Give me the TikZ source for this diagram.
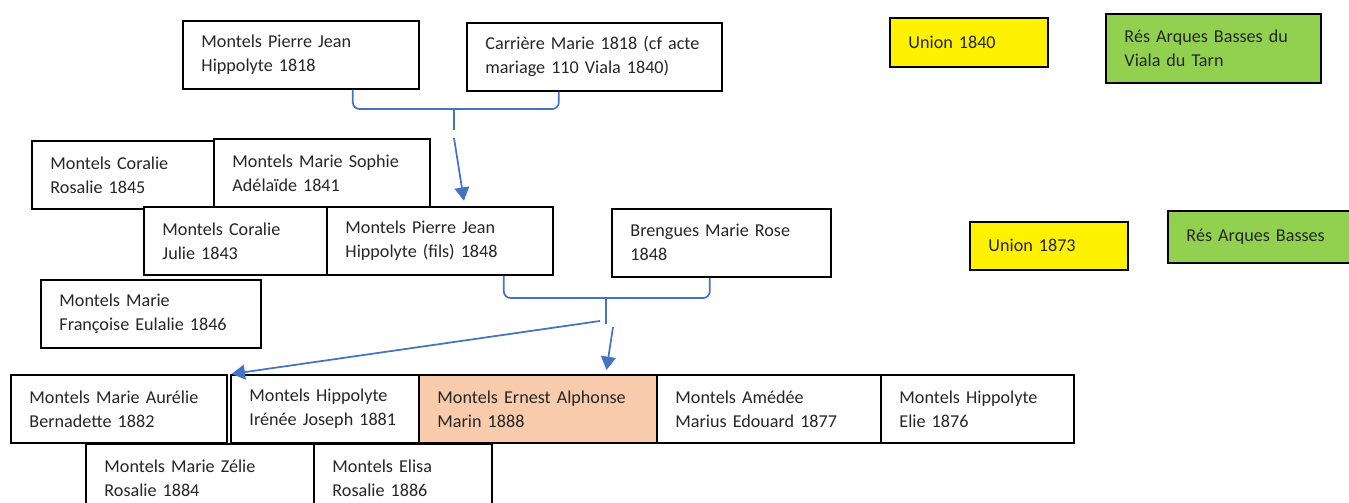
\documentclass[tikz,border=0pt]{standalone}
\usepackage{fontspec}
\setmainfont{Carlito}
\usepackage{xcolor}
\usetikzlibrary{arrows.meta}

\definecolor{lienbleu}{HTML}{4472C4}
\definecolor{resvert}{HTML}{92D050}
\definecolor{peche}{HTML}{F8CBAD}

\begin{document}
\begin{tikzpicture}[
    x=0.75pt, y=-0.75pt,
    font=\fontsize{13.6}{18}\selectfont,
    fiche/.style={draw, line width=1.2pt, fill=white, anchor=north west,
                  align=left, inner xsep=14pt, inner ysep=0pt,
                  minimum height=51pt, text width=#1, text=black!85},
    union/.style={fiche=#1, fill=yellow, minimum height=36.75pt},
    res/.style={fiche=#1, fill=resvert},
    lien/.style={draw=lienbleu, line width=1.3pt},
    fleche/.style={lien, -{Triangle[length=10pt, width=11pt]}}
  ]
    \clip (0,0) rectangle (1349,503);

    % parents 1840
    \node[fiche=149pt] (pere) at (182,20) {Montels Pierre Jean\\Hippolyte 1818};
    \node[fiche=163.25pt] (mere) at (466,22)
      {Carrière Marie 1818 (cf acte\\mariage 110  Viala 1840)};
    \node[union=90.5pt] (union1) at (889,17) {Union 1840};
    \node[res=133.25pt, minimum height=51.75pt] (res1) at (1105,13)
      {Rés Arques Basses du\\Viala du Tarn};

    % enfants 1841-1848
    \node[fiche=108.5pt] (coralieR) at (31,140) {Montels Coralie\\Rosalie 1845};
    \node[fiche=134pt] (sophie) at (213,138) {Montels Marie Sophie\\Adélaïde 1841};
    \node[fiche=109.25pt] (coralieJ) at (143,206) {Montels Coralie\\Julie 1843};
    \node[fiche=141.5pt] (fils) at (326,206)
      {Montels Pierre Jean\\Hippolyte (fils) 1848};
    \node[fiche=136.25pt] (brengues) at (611,208) {Brengues Marie Rose\\1848};
    \node[union=90.5pt, minimum height=36pt] (union2) at (969,221) {Union 1873};
    \node[res=116.75pt, minimum height=39pt] (res2) at (1167,210) {Rés Arques Basses};
    \node[fiche=137pt] (eulalie) at (40,279)
      {Montels Marie\\Françoise Eulalie 1846};

    % enfants 1876-1888
    \node[fiche=134pt] (aurelie) at (10,374) {Montels Marie Aurélie\\Bernadette 1882};
    \node[fiche=113pt] (irenee) at (230,374) {Montels Hippolyte\\Irénée Joseph 1881};
    \node[fiche=150.5pt, fill=peche] (ernest) at (418,374)
      {Montels Ernest Alphonse\\Marin 1888};
    \node[fiche=140pt] (amedee) at (656,374) {Montels Amédée\\Marius Edouard 1877};
    \node[fiche=116.75pt] (elie) at (880,374) {Montels Hippolyte\\Elie 1876};
    \node[fiche=143pt] (zelie) at (85,443) {Montels Marie Zélie\\Rosalie 1884};
    \node[fiche=105.5pt] (elisa) at (313,443) {Montels Elisa\\Rosalie 1886};

    % accolades
    \coordinate (noeud1) at (454,109);
    \coordinate (tige1) at (454,130);
    \coordinate (depart1) at (454,138);
    \draw[lien, rounded corners=5pt] ([xshift=39pt]pere.south) |- (noeud1)
      -| ([xshift=-26.6pt]mere.south);
    \draw[lien] (noeud1) -- (tige1);
    \draw[fleche, shorten >=4pt] (depart1) -- ([xshift=18.75pt]fils.north);

    \coordinate (noeud2) at (606,298);
    \coordinate (tige2) at (606,324);
    \draw[lien, rounded corners=5pt] ([xshift=48pt]fils.south) |- (noeud2)
      -| ([xshift=-8.6pt]brengues.south);
    \draw[lien] (noeud2) -- (tige2);
    \coordinate (depart2g) at (600,321);
    \coordinate (depart2b) at (613,327);
    \draw[fleche] (depart2g) -- ([xshift=3pt]aurelie.north east);
    \draw[fleche, shorten >=3pt] (depart2b) -- ([xshift=51pt]ernest.north);
\end{tikzpicture}
\end{document}
